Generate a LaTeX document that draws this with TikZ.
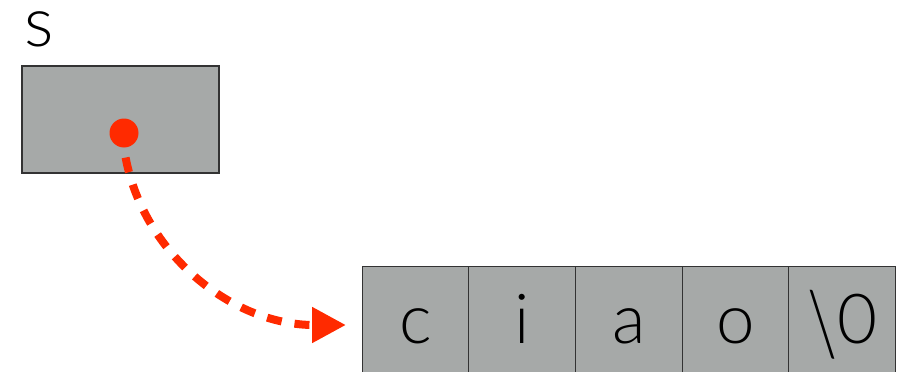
\documentclass[tikz,border=0pt]{standalone}
\usepackage{fontspec}
\setmainfont{Lato Light}
\usepackage{tikz}
\usetikzlibrary{arrows.meta, positioning, calc}

\definecolor{boxgray}{HTML}{A6A9A8}
\definecolor{ptrred}{HTML}{FF2A00}

\newcommand{\tallbs}{\raisebox{-12pt}{\scalebox{1}[1.3]{\textbackslash}}}

\begin{document}
\begin{tikzpicture}[
  x=1pt, y=-1pt,
  cell/.style={rectangle, draw=black!80, line width=1pt, fill=boxgray, minimum width=106.7pt, minimum height=118pt, inner sep=0pt, outer sep=0pt},
  var/.style={rectangle, draw=black!80, line width=1.2pt, fill=boxgray, minimum width=197pt, minimum height=107pt, inner sep=0pt, outer sep=0pt},
  lbl/.style={font=\fontsize{69}{80}\selectfont, inner sep=0pt, anchor=base},
  ptr/.style={draw=ptrred, line width=8pt, dash pattern=on 15pt off 13pt, dash phase=18pt, -{Triangle[length=34pt, width=34pt]}},
]
\useasboundingbox (0,0) rectangle (906,372);
\clip (0,0) rectangle (906,372);

%% pointer variable
\node[var] (s) at (120.5,119.5) {};
\node[lbl, anchor=base west] (sname) at (24,46) {s};
\node[circle, fill=ptrred, minimum size=29pt, inner sep=0pt] (dot) at (124,133) {};

%% the string
\foreach \ch [count=\i] in {c, i, a, o, \tallbs0} {
  \node[cell] (c\i) at ({362+106.7*(\i-0.5)},325) {};
  \node[lbl] (t\i) at ({362+106.7*(\i-0.5)},343) {\ch};
}

%% pointer arrow
\draw[ptr] (dot.south) .. controls (138,250) and (230,325) .. ($(c1.west)+(-16,0)$);
\end{tikzpicture}
\end{document}
